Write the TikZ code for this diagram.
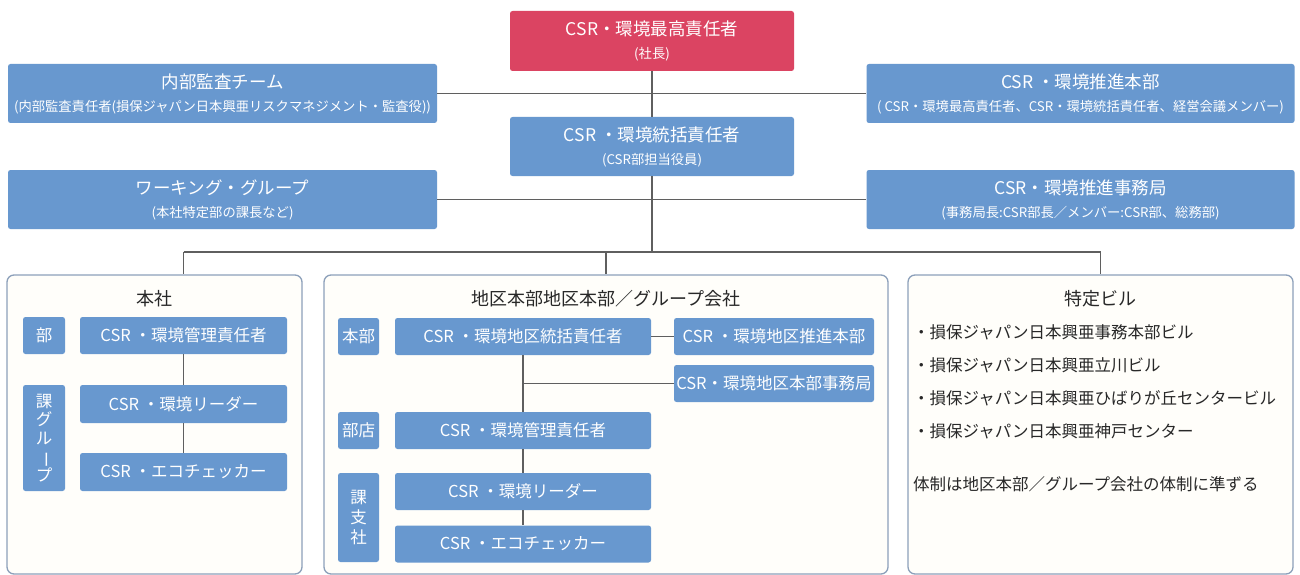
\documentclass[tikz,border=0pt]{standalone}
\usepackage{fontspec}
\setmainfont{Noto Sans CJK JP}
\definecolor{boxblue}{RGB}{104,152,207}
\definecolor{boxred}{RGB}{219,68,98}
\definecolor{panelc}{RGB}{140,160,186}
\definecolor{panelfill}{RGB}{255,254,250}
\definecolor{linec}{RGB}{95,95,95}
\definecolor{textc}{RGB}{40,40,40}
\newcommand\mytwoline[2]{{\fontsize{17.5}{20}\selectfont #1}\\[3pt]{\fontsize{13.3}{15}\selectfont #2}}
\tikzset{
  bluebox/.style={rectangle, rounded corners=2.5pt, inner sep=0pt, fill=boxblue, text=white, align=center, font=\fontsize{16.5}{20}\selectfont},
  redbox/.style={bluebox, fill=boxred},
  panel/.style={rectangle, draw=panelc, line width=1.3pt, fill=panelfill, rounded corners=7pt, inner sep=0pt},
  ptitle/.style={inner sep=0pt, text=textc, font=\fontsize{18}{20}\selectfont},
  btext/.style={inner sep=0pt, anchor=west, text=textc, font=\fontsize{16.5}{20}\selectfont},
  link/.style={draw=linec, line width=1.1pt}
}
\begin{document}
\begin{tikzpicture}[x=1pt,y=-1pt]
\useasboundingbox (0,0) rectangle (1300,575);
\fill[white] (0,0) rectangle (1300,575);
\coordinate (bus) at (0,252);

% panels
\node[panel, minimum width=295, minimum height=299] (hq) at (154.5,424.5) {};
\node[panel, minimum width=564, minimum height=299] (reg) at (606,424.5) {};
\node[panel, minimum width=385, minimum height=299] (bld) at (1100.5,424.5) {};
\node[ptitle] (hqT) at (154.5,299) {本社};
\node[ptitle] (regT) at (606,299) {地区本部地区本部／グループ会社};
\node[ptitle] (bldT) at (1100.5,299) {特定ビル};

% top boxes
\node[redbox, minimum width=284, minimum height=60] (ceo) at (652,41) {\mytwoline{CSR・環境最高責任者}{(社長)}};
\node[bluebox, minimum width=429, minimum height=59] (audit) at (222.5,93.5) {\mytwoline{内部監査チーム}{(内部監査責任者(損保ジャパン日本興亜リスクマネジメント・監査役))}};
\node[bluebox, minimum width=428, minimum height=59] (promo) at (1080.5,93.5) {\mytwoline{CSR ・環境推進本部}{( CSR・環境最高責任者、CSR・環境統括責任者、経営会議メンバー)}};
\node[bluebox, minimum width=284, minimum height=59] (chief) at (652,146.5) {\mytwoline{CSR ・環境統括責任者}{(CSR部担当役員)}};
\node[bluebox, minimum width=429, minimum height=59] (wg) at (222.5,199.5) {\mytwoline{ワーキング・グループ}{(本社特定部の課長など)}};
\node[bluebox, minimum width=428, minimum height=59] (sec) at (1080.5,199.5) {\mytwoline{CSR・環境推進事務局}{(事務局長:CSR部長／メンバー:CSR部、総務部)}};

% head office panel
\node[bluebox, minimum width=42, minimum height=37] (hqBu) at (44,335.5) {部};
\node[bluebox, minimum width=207, minimum height=37] (hqM) at (183.5,335.5) {CSR ・環境管理責任者};
\node[bluebox, minimum width=42, minimum height=106] (hqKa) at (44,438) {課\\[-1.5pt]グ\\[-1.5pt]ル\\[-1.5pt]\rotatebox[origin=c]{-90}{ー}\\[-1.5pt]プ};
\node[bluebox, minimum width=207, minimum height=38] (hqL) at (183.5,404) {CSR ・環境リーダー};
\node[bluebox, minimum width=207, minimum height=38] (hqE) at (183.5,472) {CSR ・エコチェッカー};

% regional panel
\node[bluebox, minimum width=41, minimum height=37] (rgHon) at (358.5,336.5) {本部};
\node[bluebox, minimum width=256, minimum height=37] (rgC) at (523,336.5) {CSR ・環境地区統括責任者};
\node[bluebox, minimum width=200, minimum height=37] (rgP) at (774,336.5) {CSR ・環境地区推進本部};
\node[bluebox, minimum width=200, minimum height=37] (rgS) at (774,383.5) {CSR・環境地区本部事務局};
\node[bluebox, minimum width=41, minimum height=37] (rgTen) at (358.5,430.5) {部店};
\node[bluebox, minimum width=256, minimum height=37] (rgM) at (523,430.5) {CSR ・環境管理責任者};
\node[bluebox, minimum width=41, minimum height=89] (rgKa) at (358.5,517.5) {課\\支\\社};
\node[bluebox, minimum width=256, minimum height=37] (rgL) at (523,491.5) {CSR ・環境リーダー};
\node[bluebox, minimum width=256, minimum height=37] (rgE) at (523,544) {CSR ・エコチェッカー};

% buildings panel
\node[btext] (b1) at (913,332) {・損保ジャパン日本興亜事務本部ビル};
\node[btext] (b2) at (913,365) {・損保ジャパン日本興亜立川ビル};
\node[btext] (b3) at (913,398) {・損保ジャパン日本興亜ひばりが丘センタービル};
\node[btext] (b4) at (913,431) {・損保ジャパン日本興亜神戸センター};
\node[btext] (b5) at (913,484) {体制は地区本部／グループ会社の体制に準ずる};

% connectors
\draw[link] (ceo) -- (chief);
\draw[link] (audit) -- (promo);
\draw[link] (wg) -- (sec);
\draw[link] (chief.south) -- (chief.south |- bus);
\draw[link] (hqM.north |- bus) -- (bld.north |- bus);
\draw[link] (hqM.north |- bus) -- (hqM.north |- hq.north);
\draw[link] (reg.north |- bus) -- (reg.north);
\draw[link] (bld.north |- bus) -- (bld.north);
\draw[link] (hqM) -- (hqL);
\draw[link] (hqL) -- (hqE);
\draw[link] (rgC) -- (rgP);
\draw[link] (rgC) -- (rgM);
\draw[link] (rgM) -- (rgL);
\draw[link] (rgL) -- (rgE);
\draw[link] (rgC.south |- rgS.west) -- (rgS.west);
\end{tikzpicture}
\end{document}
